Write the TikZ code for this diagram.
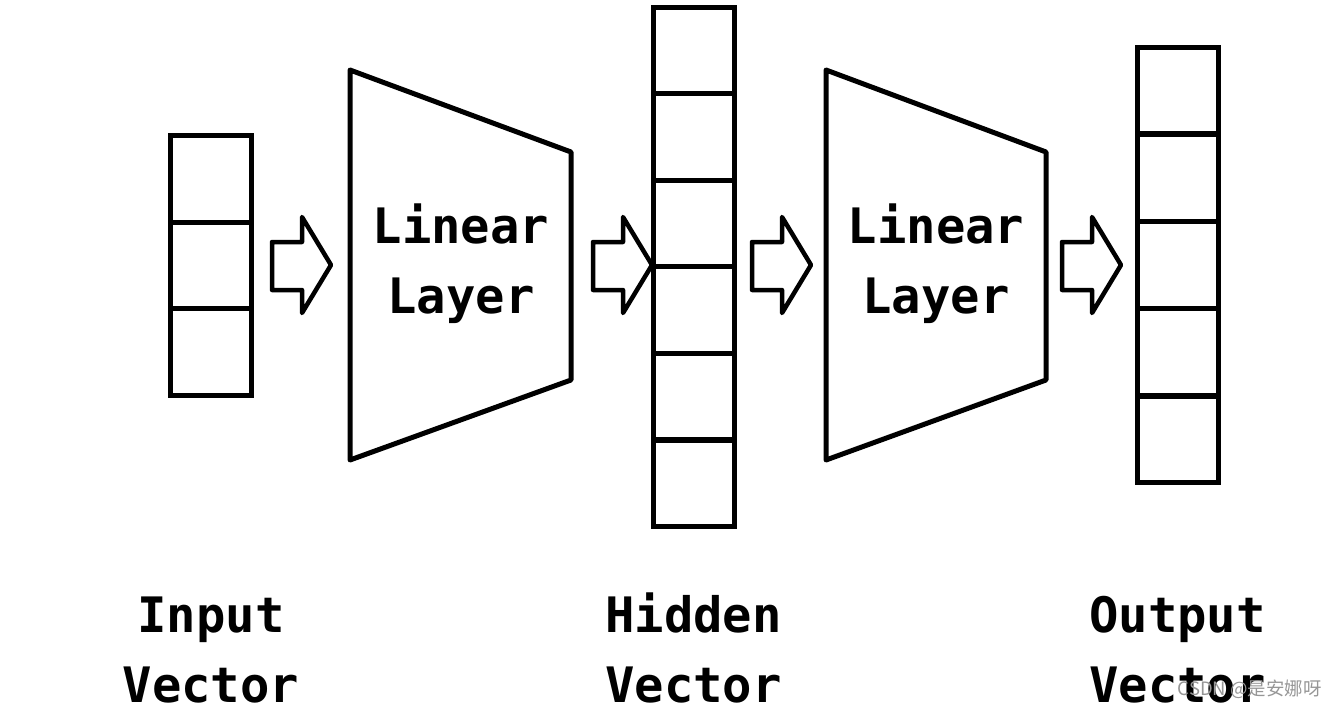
\documentclass[tikz,border=0pt]{standalone}
\usepackage{fontspec}
\newfontfamily\labelfont{DejaVu Sans Mono}
\newfontfamily\cjk{Noto Sans CJK SC}
\usetikzlibrary{positioning}
\definecolor{markgray}{RGB}{150,150,150}
\tikzset{
  cell/.style={draw, line width=0.1cm, minimum width=1.62cm, minimum height=1.732cm, inner sep=0pt},
  layer/.style={draw, line width=0.1cm, line join=round},
  arrowline/.style={draw, line width=0.09cm, line join=round},
  lbl/.style={font=\labelfont\bfseries\fontsize{27.8}{39.4}\selectfont, align=center, anchor=base, inner sep=0pt}
}
\newcommand{\blockarrow}[1]{\draw[arrowline] (#1) ++(0,-24) -- ++(30,0) -- ++(0,-25) -- ++(29,48) -- ++(-29,48) -- ++(0,-23) -- ++(-30,0) -- cycle;}
\begin{document}
\begin{tikzpicture}[x=0.02cm, y=-0.02cm]
\useasboundingbox (0,0) rectangle (1337,706);
% input vector
\foreach \i in {1,...,3}
  \node[cell] (in\i) at (211,135.5+86.6*\i-43.3) {};
% hidden vector
\foreach \i in {1,...,6}
  \node[cell] (hid\i) at (693.5,7+86.6*\i-43.3) {};
% output vector
\foreach \i in {1,...,5}
  \node[cell] (out\i) at (1177.5,47+87.2*\i-43.6) {};
% linear layers
\coordinate (l1a) at (350,70);
\coordinate (l1b) at (571,152);
\coordinate (l1c) at (571,380);
\coordinate (l1d) at (350,460);
\draw[layer] (l1a) -- (l1b) -- (l1c) -- (l1d) -- cycle;
\node[lbl] (lin1) at (461,313) {Linear\\Layer};
\coordinate (l2a) at (826,70);
\coordinate (l2b) at (1046,152);
\coordinate (l2c) at (1046,380);
\coordinate (l2d) at (826,460);
\draw[layer] (l2a) -- (l2b) -- (l2c) -- (l2d) -- cycle;
\node[lbl] (lin2) at (936,313) {Linear\\Layer};
% arrows
\coordinate (a1) at (272,266);
\coordinate (a2) at (593,266);
\coordinate (a3) at (752,266);
\coordinate (a4) at (1062,266);
\blockarrow{a1}
\blockarrow{a2}
\blockarrow{a3}
\blockarrow{a4}
% labels
\node[lbl] (inlbl) at (211,702) {Input\\Vector};
\node[lbl] (hidlbl) at (693.5,702) {Hidden\\Vector};
\node[lbl] (outlbl) at (1177.5,702) {Output\\Vector};
\node[anchor=base east, inner sep=0pt, text=markgray, font=\cjk\fontsize{10.5}{12}\selectfont] (mark) at (1322,695) {CSDN @是安娜呀};
\end{tikzpicture}
\end{document}
